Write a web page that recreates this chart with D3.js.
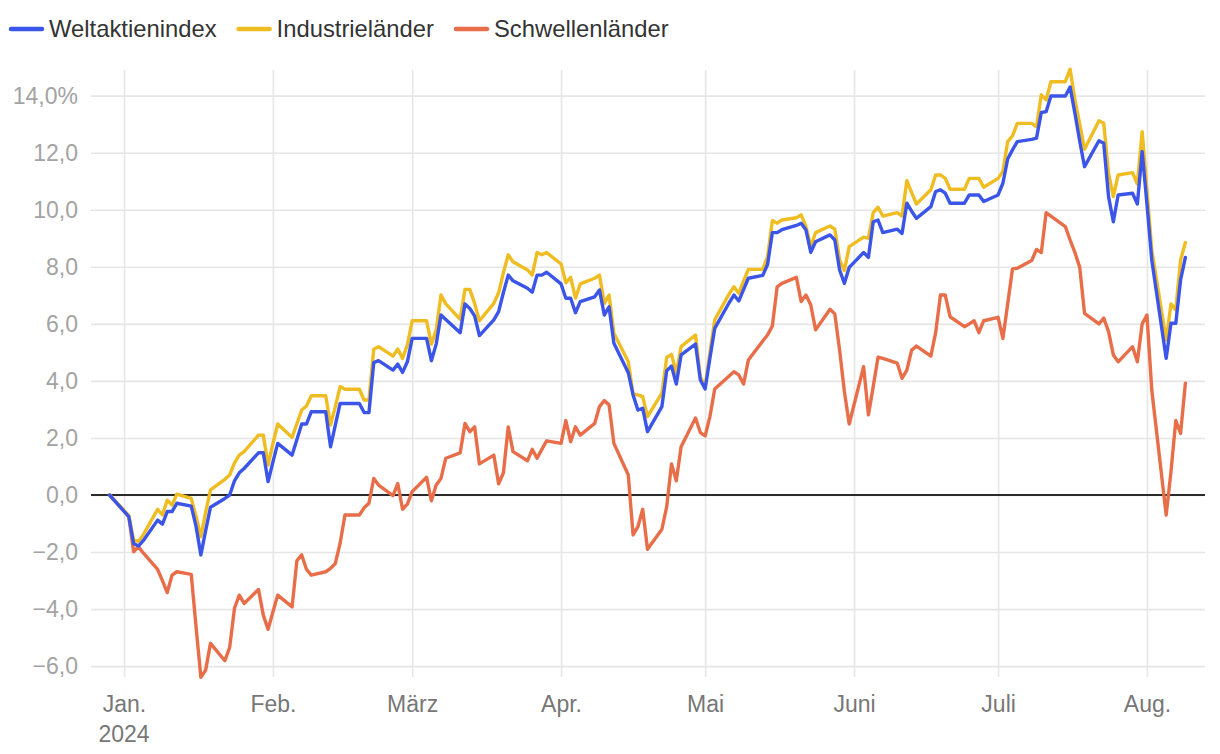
<!DOCTYPE html>
<html><head><meta charset="utf-8">
<script src="https://cdn.jsdelivr.net/npm/d3@7"></script>
<style>
body{margin:0;background:#fff}
svg{display:block}
text{font-family:"Liberation Sans",Arial,Helvetica,sans-serif}
</style>
</head><body>
<svg id="chart" width="1220" height="754"></svg>
<script>
// ---------- DATA ----------
const seriesNames = ["Weltaktienindex", "Industrieländer", "Schwellenländer"];
const seriesColors = ["#3b55e8", "#efbd22", "#e86e49"];

const dates = [
  "2023-12-29",
  // Jan
  "2024-01-02","2024-01-03","2024-01-04","2024-01-05","2024-01-08","2024-01-09","2024-01-10","2024-01-11","2024-01-12",
  "2024-01-15","2024-01-16","2024-01-17","2024-01-18","2024-01-19","2024-01-22","2024-01-23","2024-01-24","2024-01-25",
  "2024-01-26","2024-01-29","2024-01-30","2024-01-31",
  // Feb
  "2024-02-01","2024-02-02","2024-02-05","2024-02-06","2024-02-07","2024-02-08","2024-02-09","2024-02-12","2024-02-13",
  "2024-02-14","2024-02-15","2024-02-16","2024-02-19","2024-02-20","2024-02-21","2024-02-22","2024-02-23","2024-02-26",
  "2024-02-27","2024-02-28","2024-02-29",
  // Mar
  "2024-03-01","2024-03-04","2024-03-05","2024-03-06","2024-03-07","2024-03-08","2024-03-11","2024-03-12","2024-03-13",
  "2024-03-14","2024-03-15","2024-03-18","2024-03-19","2024-03-20","2024-03-21","2024-03-22","2024-03-25","2024-03-26",
  "2024-03-27","2024-03-28","2024-03-29",
  // Apr
  "2024-04-01","2024-04-02","2024-04-03","2024-04-04","2024-04-05","2024-04-08","2024-04-09","2024-04-10","2024-04-11",
  "2024-04-12","2024-04-15","2024-04-16","2024-04-17","2024-04-18","2024-04-19","2024-04-22","2024-04-23","2024-04-24",
  "2024-04-25","2024-04-26","2024-04-29","2024-04-30",
  // May
  "2024-05-01","2024-05-02","2024-05-03","2024-05-06","2024-05-07","2024-05-08","2024-05-09","2024-05-10","2024-05-13",
  "2024-05-14","2024-05-15","2024-05-16","2024-05-17","2024-05-20","2024-05-21","2024-05-22","2024-05-23","2024-05-24",
  "2024-05-27","2024-05-28","2024-05-29","2024-05-30","2024-05-31",
  // Jun
  "2024-06-03","2024-06-04","2024-06-05","2024-06-06","2024-06-07","2024-06-10","2024-06-11","2024-06-12","2024-06-13",
  "2024-06-14","2024-06-17","2024-06-18","2024-06-19","2024-06-20","2024-06-21","2024-06-24","2024-06-25","2024-06-26",
  "2024-06-27","2024-06-28",
  // Jul
  "2024-07-01","2024-07-02","2024-07-03","2024-07-04","2024-07-05","2024-07-08","2024-07-09","2024-07-10","2024-07-11",
  "2024-07-12","2024-07-15","2024-07-16","2024-07-17","2024-07-18","2024-07-19","2024-07-22","2024-07-23","2024-07-24",
  "2024-07-25","2024-07-26","2024-07-29","2024-07-30","2024-07-31",
  // Aug
  "2024-08-01","2024-08-02","2024-08-05","2024-08-06","2024-08-07","2024-08-08","2024-08-09"
];

const welt = [
  0,
  -0.76,-1.70,-1.79,-1.60,-0.88,-1.02,-0.58,-0.58,-0.29,
  -0.39,-1.10,-2.10,-1.25,-0.43,-0.12,0.00,0.50,0.78,
  0.93,1.48,1.48,0.47,
  1.15,1.81,1.40,1.95,2.49,2.49,2.92,2.92,1.69,
  2.45,3.21,3.21,3.21,2.89,2.89,4.64,4.71,4.38,
  4.59,4.30,4.67,
  5.49,5.49,4.71,5.29,6.31,6.15,5.69,6.70,6.54,
  6.28,5.59,6.14,6.43,7.10,7.71,7.51,7.25,7.11,
  7.71,7.71,7.81,
  7.40,6.90,6.90,6.39,6.78,6.95,7.19,6.31,6.60,
  5.32,4.29,3.51,2.98,3.04,2.22,3.10,4.36,4.52,
  3.89,4.91,5.29,4.03,
  3.72,4.80,5.84,6.74,7.01,6.80,7.20,7.60,7.70,
  8.08,9.20,9.20,9.30,9.45,9.53,9.29,8.51,8.88,
  9.12,8.94,7.89,7.42,7.98,
  8.50,8.33,9.58,9.64,9.20,9.32,9.17,10.23,9.95,
  9.70,10.11,10.64,10.70,10.58,10.23,10.23,10.52,10.52,
  10.52,10.29,
  10.52,10.93,11.78,12.10,12.39,12.47,12.51,13.41,13.44,
  13.99,13.99,14.30,13.38,12.40,11.51,12.42,12.33,10.46,
  9.58,10.52,10.58,10.20,12.04,
  10.20,8.24,4.79,6.02,6.02,7.54,8.33
];

const industrie = [
  0,
  -0.72,-1.58,-1.62,-1.40,-0.50,-0.70,-0.18,-0.35,0.03,
  -0.12,-0.75,-1.46,-0.60,0.18,0.55,0.70,1.13,1.40,
  1.52,2.10,2.10,1.05,
  1.80,2.49,2.02,2.50,2.98,3.12,3.48,3.48,2.45,
  3.10,3.80,3.71,3.71,3.33,3.33,5.11,5.20,4.87,
  5.12,4.79,5.26,
  6.11,6.11,5.29,5.79,7.01,6.70,6.16,7.21,7.21,
  6.72,6.11,6.72,7.09,7.80,8.42,8.18,7.89,7.71,
  8.50,8.42,8.50,
  8.10,7.44,7.63,6.90,7.40,7.60,7.71,6.72,7.01,
  5.67,4.67,3.53,3.51,3.45,2.75,3.57,4.82,4.93,
  4.27,5.20,5.61,4.15,
  3.80,5.00,6.14,7.05,7.30,7.07,7.50,7.91,7.91,
  8.36,9.62,9.53,9.64,9.72,9.82,9.41,8.71,9.20,
  9.43,9.32,8.24,7.87,8.71,
  9.04,9.00,9.90,10.09,9.78,9.90,9.78,11.02,10.60,
  10.20,10.70,11.22,11.22,11.10,10.72,10.72,11.10,11.10,
  11.10,10.79,
  11.10,11.34,12.39,12.59,13.03,13.03,12.91,14.03,13.85,
  14.49,14.49,14.93,13.85,13.00,12.12,13.12,13.03,11.28,
  10.46,11.22,11.30,10.90,12.74,
  10.70,8.59,5.43,6.70,6.49,8.24,8.85
];

const schwellen = [
  0,
  -0.76,-1.99,-1.81,-2.03,-2.61,-3.00,-3.42,-2.81,-2.69,
  -2.78,-4.62,-6.39,-6.14,-5.20,-5.81,-5.34,-3.97,-3.51,
  -3.80,-3.31,-4.21,-4.71,
  -4.10,-3.51,-3.92,-2.30,-2.10,-2.61,-2.81,-2.69,-2.57,
  -2.40,-1.69,-0.70,-0.70,-0.45,-0.29,0.58,0.35,-0.02,
  0.40,-0.50,-0.32,
  0.12,0.62,-0.20,0.35,0.58,1.29,1.48,2.51,2.22,
  2.39,1.09,1.40,0.39,0.78,2.39,1.52,1.20,1.60,
  1.29,1.60,1.90,
  1.81,2.61,1.87,2.39,2.10,2.51,3.10,3.31,3.16,
  1.81,0.70,-1.40,-1.11,-0.50,-1.90,-1.20,-0.41,1.09,
  0.50,1.69,2.70,2.19,
  2.07,2.75,3.72,4.17,4.32,4.21,3.89,4.73,5.40,
  5.61,5.93,7.30,7.42,7.63,6.78,7.01,6.66,5.79,
  6.51,6.35,5.08,3.62,2.49,
  4.50,2.81,3.80,4.83,4.79,4.62,4.09,4.38,5.08,
  5.22,4.87,5.69,7.01,7.01,6.25,5.90,6.00,6.11,
  5.69,6.11,
  6.23,5.49,6.70,7.93,7.95,8.22,8.61,8.50,9.90,
  9.78,9.41,8.94,8.50,7.98,6.37,6.00,6.20,5.73,
  4.91,4.67,5.20,4.67,6.00,
  6.31,3.68,-0.70,0.82,2.61,2.16,3.92
];

const yTicks = [-6, -4, -2, 0, 2, 4, 6, 8, 10, 12, 14];
const monthTicks = ["2024-01-01","2024-02-01","2024-03-01","2024-04-01","2024-05-01","2024-06-01","2024-07-01","2024-08-01"];
const monthLabels = ["Jan.","Feb.","März","Apr.","Mai","Juni","Juli","Aug."];
const yearLabel = "2024";

// ---------- CHART ----------
const svg = d3.select("#chart");
const parse = d3.timeParse("%Y-%m-%d");
const FONT = '"Liberation Sans",Arial,Helvetica,sans-serif';
const pLeft = 91, pRight = 1205, pTop = 70, pBottom = 677;

const x = d3.scaleTime()
  .domain([new Date(2023, 11, 25, 3), new Date(2024, 7, 13, 2)])
  .range([pLeft, pRight]);
const y = d3.scaleLinear().domain([-6.38, 14.9]).range([pBottom, pTop]);

const fmt = v => {
  const s = d3.format(".1f")(Math.abs(v)).replace(".", ",");
  return (v < 0 ? "\u2212" : "") + s + (v === 14 ? "%" : "");
};

// horizontal grid + y labels
const yAxis = d3.axisLeft(y).tickValues(yTicks).tickSize(-(pRight - pLeft)).tickFormat(fmt).tickPadding(13);
const gy = svg.append("g").attr("transform", `translate(${pLeft},0)`).call(yAxis);
gy.select(".domain").remove();
gy.selectAll(".tick line").attr("stroke", "#e6e6e6").attr("stroke-width", 1.6);
gy.selectAll(".tick text").attr("fill", "#a3a3a3").attr("font-size", 23).attr("font-family", FONT);

// vertical grid + x labels
const monthDates = monthTicks.map(parse);
const xAxis = d3.axisBottom(x).tickValues(monthDates).tickSize(-(pBottom - pTop))
  .tickFormat((d, i) => monthLabels[i]).tickPadding(0);
const gx = svg.append("g").attr("transform", `translate(0,${pBottom})`).call(xAxis);
gx.select(".domain").remove();
gx.selectAll(".tick line").attr("stroke", "#e6e6e6").attr("stroke-width", 1.6);
gx.selectAll(".tick text").attr("fill", "#777").attr("font-size", 23).attr("dy", null).attr("y", 35)
  .attr("font-family", FONT);
gx.append("text").attr("x", x(monthDates[0])).attr("y", 65).attr("text-anchor", "middle")
  .attr("fill", "#777").attr("font-size", 23).attr("font-family", FONT)
  .text(yearLabel);

// zero line
svg.append("line").attr("x1", pLeft).attr("x2", pRight).attr("y1", y(0)).attr("y2", y(0))
  .attr("stroke", "#2b2b2b").attr("stroke-width", 1.8);

// lines
const parsedDates = dates.map(parse);
const allSeries = [welt, industrie, schwellen];
const line = d3.line().x((d, i) => x(parsedDates[i])).y(d => y(d));
[2, 1, 0].forEach(k => {
  svg.append("path").datum(allSeries[k]).attr("d", line)
    .attr("fill", "none").attr("stroke", seriesColors[k]).attr("stroke-width", 3.4)
    .attr("stroke-linejoin", "round").attr("stroke-linecap", "round");
});

// legend
const leg = svg.append("g").attr("transform", "translate(11,29)");
let lx = 0;
seriesNames.forEach((name, k) => {
  leg.append("line").attr("x1", lx).attr("x2", lx + 31).attr("y1", 0).attr("y2", 0)
    .attr("stroke", seriesColors[k]).attr("stroke-width", 4.5).attr("stroke-linecap", "round");
  const t = leg.append("text").attr("x", lx + 38).attr("y", 0).attr("dy", "0.35em")
    .attr("fill", "#333").attr("font-size", 23.8).attr("font-family", FONT).text(name);
  lx += 38 + t.node().getComputedTextLength() + 22;
});
</script>
</body></html>
